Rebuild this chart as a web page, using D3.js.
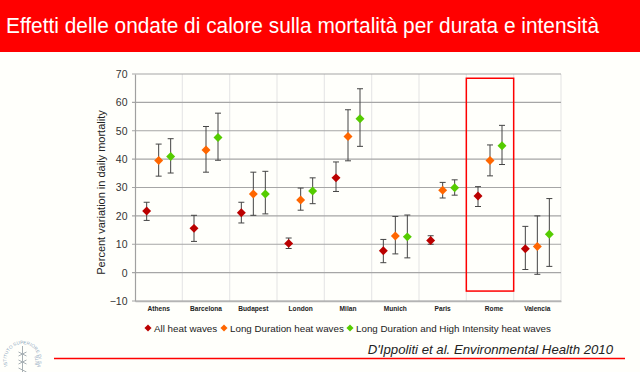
<!DOCTYPE html>
<html>
<head>
<meta charset="utf-8">
<script src="https://cdn.jsdelivr.net/npm/d3@7"></script>
<style>
  html, body { margin: 0; padding: 0; background: #fffffb; }
  svg { display: block; font-family: "Liberation Sans", Arial, sans-serif; }
</style>
</head>
<body>
<div id="chart"></div>
<script>
// Values
const cities = ["Athens", "Barcelona", "Budapest", "London", "Milan", "Munich", "Paris", "Rome", "Valencia"];
const seriesNames = ["All heat waves", "Long Duration heat waves", "Long Duration and High Intensity heat waves"];
const seriesColors = ["#bb0000", "#ff6600", "#55cc00"];
const yTicks = [-10, 0, 10, 20, 30, 40, 50, 60, 70];

const allValues = [21.7, 15.6, 21.1, 10.3, 33.4, 7.7, 11.3, 27, 8.4];
const allHigh = [24.8, 20.2, 24.8, 12.2, 39, 11.7, 13, 30.3, 16.3];
const allLow = [18.4, 11, 17.5, 8.5, 28.6, 3.5, 10, 23.3, 1.1];

const longValues = [39.5, 43.2, 27.7, 25.6, 48, 12.9, 29, 39.5, 9.2];
const longHigh = [45.3, 51.5, 35.4, 29.8, 57.4, 19.8, 31.8, 45, 20];
const longLow = [34, 35.4, 20.2, 22, 39.4, 6.6, 26.3, 34.1, -0.6];

const intenseValues = [40.9, 47.6, 27.7, 28.8, 54.2, 12.6, 29.9, 44.7, 13.5];
const intenseHigh = [47.2, 56.2, 35.7, 33.4, 64.8, 20.3, 32.7, 51.9, 26.1];
const intenseLow = [35.1, 39.6, 20.7, 24.3, 44.5, 5.2, 27.3, 38.1, 2.2];

const seriesValues = [allValues, longValues, intenseValues];
const seriesHigh = [allHigh, longHigh, intenseHigh];
const seriesLow = [allLow, longLow, intenseLow];

const width = 640, height = 372;
const margin = { top: 74, right: 79, bottom: 71, left: 135 };
const plotW = width - margin.left - margin.right;
const plotH = height - margin.top - margin.bottom;

const svg = d3.select("#chart").append("svg")
    .attr("width", width)
    .attr("height", height);

// Red title band
svg.append("rect")
    .attr("width", width)
    .attr("height", 52)
    .attr("fill", "#ff0000");

svg.append("text")
    .attr("x", 6)
    .attr("y", 33)
    .attr("fill", "#fff")
    .attr("textLength", 593)
    .attr("lengthAdjust", "spacingAndGlyphs")
    .style("font-size", "22px")
    .text("Effetti delle ondate di calore sulla mortalità per durata e intensità");

const g = svg.append("g")
    .attr("transform", `translate(${margin.left},${margin.top})`);

const x = d3.scaleBand().domain(cities).range([0, plotW]);
const inner = d3.scalePoint().domain(d3.range(3)).range([-12, 12]);
const y = d3.scaleLinear().domain([-10, 70]).range([plotH, 0]);

// Vertical grid, light
g.append("g")
    .selectAll("line")
    .data(cities)
    .enter()
    .append("line")
    .attr("x1", d => x(d) + x.bandwidth())
    .attr("x2", d => x(d) + x.bandwidth())
    .attr("y1", 0)
    .attr("y2", plotH)
    .attr("stroke", "#e8e8e8")
    .attr("stroke-width", 1.2);

// Horizontal grid
g.append("g")
    .selectAll("line")
    .data(yTicks)
    .enter()
    .append("line")
    .attr("x1", -3)
    .attr("x2", plotW)
    .attr("y1", d => y(d))
    .attr("y2", d => y(d))
    .attr("stroke", "#a6a6a6")
    .attr("stroke-width", 1.2);

// Axes
const yAxis = g.append("g")
    .call(d3.axisLeft(y).tickValues(yTicks).tickSize(0).tickPadding(7.5));
yAxis.select(".domain").attr("stroke", "#a0a0a0").attr("stroke-width", 1.2);
yAxis.selectAll("text")
    .style("font-size", "10.5px")
    .style("font-family", "'Liberation Sans', Arial, sans-serif")
    .attr("fill", "#333");

const xAxis = g.append("g")
    .attr("transform", `translate(0,${plotH})`)
    .call(d3.axisBottom(x).tickSize(0).tickPadding(5));
xAxis.select(".domain").attr("stroke", "#b4b4b4").attr("stroke-width", 1.5);
xAxis.selectAll("text")
    .style("font-size", "6.6px")
    .style("font-weight", "bold")
    .style("font-family", "'Liberation Sans', Arial, sans-serif")
    .attr("fill", "#222")
    .attr("dx", d => d === "Rome" ? 4 : 0);

g.append("text")
    .attr("transform", "rotate(-90)")
    .attr("x", -plotH / 2 - 5)
    .attr("y", -30)
    .attr("text-anchor", "middle")
    .attr("fill", "#222")
    .style("font-size", "11px")
    .text("Percent variation in daily mortality");

// Error bars and markers
const diamond = d3.symbol().type(d3.symbolSquare).size(40);

seriesNames.forEach((name, s) => {
    const layer = g.append("g");
    const cx = i => x(cities[i]) + x.bandwidth() / 2 + inner(s);

    cities.forEach((city, i) => {
        const path = d3.path();
        path.moveTo(cx(i), y(seriesLow[s][i]));
        path.lineTo(cx(i), y(seriesHigh[s][i]));
        path.moveTo(cx(i) - 3, y(seriesLow[s][i]));
        path.lineTo(cx(i) + 3, y(seriesLow[s][i]));
        path.moveTo(cx(i) - 3, y(seriesHigh[s][i]));
        path.lineTo(cx(i) + 3, y(seriesHigh[s][i]));
        layer.append("path")
            .attr("d", path.toString())
            .attr("fill", "none")
            .attr("stroke", "#444")
            .attr("stroke-width", 1);
    });

    layer.selectAll(".mark")
        .data(seriesValues[s])
        .enter()
        .append("path")
        .attr("class", "mark")
        .attr("d", diamond)
        .attr("transform", (d, i) => `translate(${cx(i)},${y(d)}) rotate(45)`)
        .attr("fill", seriesColors[s]);
});

// Highlight box round Rome
g.append("rect")
    .attr("x", x("Rome"))
    .attr("y", y(68.5))
    .attr("width", x.bandwidth())
    .attr("height", y(-6.5) - y(68.5))
    .attr("fill", "none")
    .attr("stroke", "#ff0000")
    .attr("stroke-width", 1.5);

// Legend
const legendY = 328;
const legendX = [148, 224, 350];
const legend = svg.append("g");
seriesNames.forEach((name, s) => {
    legend.append("path")
        .attr("d", d3.symbol().type(d3.symbolSquare).size(25))
        .attr("transform", `translate(${legendX[s]},${legendY}) rotate(45)`)
        .attr("fill", seriesColors[s]);
    legend.append("text")
        .attr("x", legendX[s] + 6)
        .attr("y", legendY + 3.5)
        .attr("fill", "#222")
        .style("font-size", "9.8px")
        .text(name);
});

// Citation and red rule
svg.append("text")
    .attr("x", 613)
    .attr("y", 354)
    .attr("text-anchor", "end")
    .attr("fill", "#222")
    .style("font-size", "13.2px")
    .style("font-style", "italic")
    .text("D'Ippoliti et al. Environmental Health 2010");

svg.append("line")
    .attr("x1", 54)
    .attr("x2", 625)
    .attr("y1", 358.5)
    .attr("y2", 358.5)
    .attr("stroke", "#ff0000")
    .attr("stroke-width", 1.4);

// Institute seal, bottom left
const seal = svg.append("g").attr("transform", "translate(22.5,360)");
seal.append("path")
    .attr("id", "sealArc")
    .attr("d", d3.arc()({ innerRadius: 16, outerRadius: 16, startAngle: -Math.PI * 0.62, endAngle: Math.PI * 0.62 }))
    .attr("fill", "none");
seal.append("text")
    .attr("fill", "#8ea6bd")
    .style("font-size", "4.6px")
    .append("textPath")
    .attr("href", "#sealArc")
    .text("ISTITUTO SUPERIORE DI SANITÀ");
seal.append("path")
    .attr("d", "M0,-14V12M-4,-8L4,-4M4,-8L-4,-4M-4,0L4,4M4,0L-4,4M-4,8L4,12")
    .attr("fill", "none")
    .attr("stroke", "#a8b0b4")
    .attr("stroke-width", 1);

console.log("chart drawn");
</script>
</body>
</html>
